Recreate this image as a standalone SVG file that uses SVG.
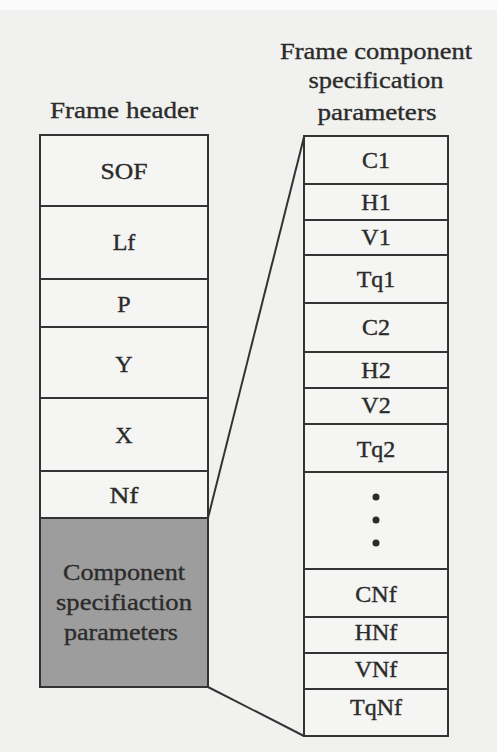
<svg xmlns="http://www.w3.org/2000/svg" width="497" height="752" viewBox="0 0 497 752">
  <style>
    .cell { fill: #f5f5f3; stroke: #333; stroke-width: 2; }
    .shaded { fill: #9d9d9d; stroke: #333; stroke-width: 2; }
    .lbl { font-family: "Liberation Serif", "Times New Roman", serif; font-size: 24px; fill: #2b2b2b; stroke: #2b2b2b; stroke-width: 0.4; text-anchor: middle; }
    .ttl { font-family: "Liberation Serif", "Times New Roman", serif; font-size: 24px; fill: #2b2b2b; stroke: #2b2b2b; stroke-width: 0.35; text-anchor: middle; }
    .conn { stroke: #333; stroke-width: 2; fill: none; }
    .dot { fill: #2b2b2b; }
  </style>
  <rect x="0" y="0" width="497" height="752" fill="#f1f1ef"/>
  <rect x="0" y="0" width="497" height="10" fill="#fbfbfb"/>

  <!-- Titles -->
  <g id="title-left">
    <text class="ttl" x="124" y="118" textLength="148" lengthAdjust="spacingAndGlyphs">Frame header</text>
  </g>
  <g id="title-right">
    <text class="ttl" x="376" y="59" textLength="192" lengthAdjust="spacingAndGlyphs">Frame component</text>
    <text class="ttl" x="376" y="88" textLength="135" lengthAdjust="spacingAndGlyphs">specification</text>
    <text class="ttl" x="377" y="120" textLength="119" lengthAdjust="spacingAndGlyphs">parameters</text>
  </g>

  <!-- Connectors -->
  <g id="connectors">
    <line class="conn" x1="208" y1="518" x2="304" y2="137"/>
    <line class="conn" x1="208" y1="687" x2="304" y2="736"/>
  </g>

  <!-- Frame header stack -->
  <g id="frame-header">
    <g id="sof"><rect class="cell" x="40" y="135" width="168" height="71"/><text class="lbl" x="124" y="179" textLength="47" lengthAdjust="spacingAndGlyphs">SOF</text></g>
    <g id="lf"><rect class="cell" x="40" y="206" width="168" height="73"/><text class="lbl" x="124" y="250">Lf</text></g>
    <g id="p"><rect class="cell" x="40" y="279" width="168" height="48"/><text class="lbl" x="124" y="312">P</text></g>
    <g id="y"><rect class="cell" x="40" y="327" width="168" height="71"/><text class="lbl" x="124" y="372">Y</text></g>
    <g id="x"><rect class="cell" x="40" y="398" width="168" height="73"/><text class="lbl" x="124" y="443">X</text></g>
    <g id="nf"><rect class="cell" x="40" y="471" width="168" height="47"/><text class="lbl" x="124" y="503" textLength="29" lengthAdjust="spacingAndGlyphs">Nf</text></g>
    <g id="component-spec">
      <rect class="shaded" x="40" y="518" width="168" height="169"/>
      <text class="ttl" x="124" y="580" textLength="122" lengthAdjust="spacingAndGlyphs">Component</text>
      <text class="ttl" x="124" y="610" textLength="136" lengthAdjust="spacingAndGlyphs">specifiaction</text>
      <text class="ttl" x="121" y="640" textLength="114" lengthAdjust="spacingAndGlyphs">parameters</text>
    </g>
  </g>

  <!-- Frame component specification parameters stack -->
  <g id="component-params">
    <g id="c1"><rect class="cell" x="304" y="136" width="144" height="48"/><text class="lbl" x="376" y="168">C1</text></g>
    <g id="h1"><rect class="cell" x="304" y="184" width="144" height="36"/><text class="lbl" x="376" y="210">H1</text></g>
    <g id="v1"><rect class="cell" x="304" y="220" width="144" height="35"/><text class="lbl" x="376" y="245">V1</text></g>
    <g id="tq1"><rect class="cell" x="304" y="255" width="144" height="48"/><text class="lbl" x="376" y="287">Tq1</text></g>
    <g id="c2"><rect class="cell" x="304" y="303" width="144" height="49"/><text class="lbl" x="376" y="335">C2</text></g>
    <g id="h2"><rect class="cell" x="304" y="352" width="144" height="36"/><text class="lbl" x="376" y="378">H2</text></g>
    <g id="v2"><rect class="cell" x="304" y="388" width="144" height="36"/><text class="lbl" x="376" y="413">V2</text></g>
    <g id="tq2"><rect class="cell" x="304" y="424" width="144" height="48"/><text class="lbl" x="376" y="457">Tq2</text></g>
    <g id="ellipsis">
      <rect class="cell" x="304" y="472" width="144" height="97"/>
      <circle class="dot" cx="376" cy="497" r="3.5"/>
      <circle class="dot" cx="376" cy="520" r="3.5"/>
      <circle class="dot" cx="376" cy="543" r="3.5"/>
    </g>
    <g id="cnf"><rect class="cell" x="304" y="569" width="144" height="48"/><text class="lbl" x="376" y="602">CNf</text></g>
    <g id="hnf"><rect class="cell" x="304" y="617" width="144" height="36"/><text class="lbl" x="376" y="640">HNf</text></g>
    <g id="vnf"><rect class="cell" x="304" y="653" width="144" height="36"/><text class="lbl" x="376" y="677">VNf</text></g>
    <g id="tqnf"><rect class="cell" x="304" y="689" width="144" height="47"/><text class="lbl" x="376" y="715">TqNf</text></g>
  </g>
</svg>
